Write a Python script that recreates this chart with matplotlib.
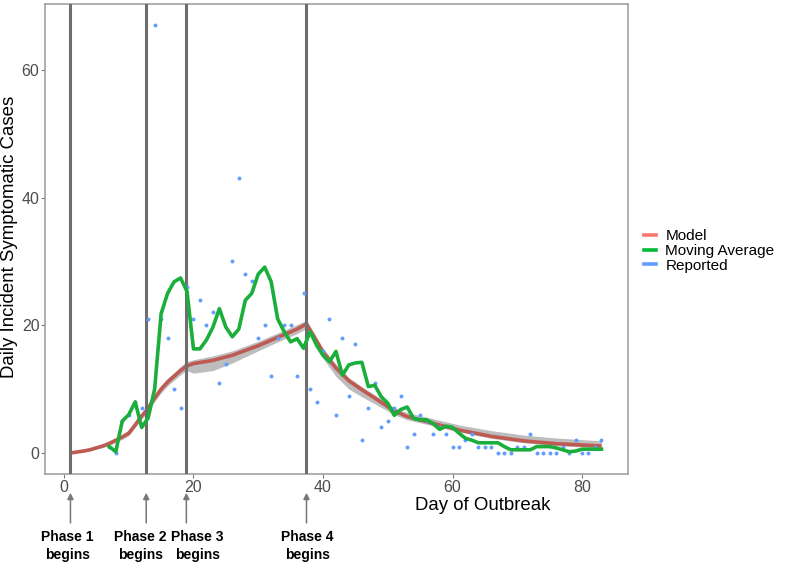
import matplotlib
matplotlib.use("Agg")
from matplotlib import pyplot as plt

plt.rcParams['font.family'] = ['Liberation Sans', 'DejaVu Sans']

# reported daily cases (days 7..83)
rep_days = list(range(7, 84))
rep_vals = [1, 0, 5, 6, 8, 7, 21, 67, 21, 18, 10, 7, 26, 21, 24, 20, 22, 11, 14, 30,
            43, 28, 27, 18, 20, 12, 18, 20, 20, 12, 25, 10, 8, 16, 21, 6, 18, 9, 17, 2,
            7, 11, 4, 5, 7, 9, 1, 3, 6, 5, 3, 4, 3, 1, 1, 2, 3, 1, 1, 1,
            0, 0, 0, 1, 1, 3, 0, 0, 0, 0, 1, 0, 2, 0, 0, 1, 2]

# moving average (days 7..83)
ma_days = list(range(7, 84))
ma_vals = [1.0, 0.2, 5.0, 6.0, 8.0, 4.0, 5.5, 10.0, 21.8, 25.0, 26.8, 27.4, 25.3, 16.3,
           16.3, 17.7, 19.7, 22.6, 19.7, 18.2, 19.4, 23.9, 25.0, 28.0, 29.1, 26.8, 21.0,
           19.0, 17.4, 17.9, 16.4, 19.0, 16.9, 15.3, 14.3, 15.9, 12.2, 13.8, 14.1, 14.2,
           10.4, 10.6, 8.8, 7.8, 5.9, 6.8, 7.2, 5.4, 5.2, 5.2, 4.6, 3.7, 4.2, 4.0, 3.1,
           2.3, 2.0, 1.6, 1.6, 1.6, 1.6, 1.0, 0.5, 0.5, 0.5, 0.5, 1.0, 1.0, 1.0, 0.8,
           0.5, 0.2, 0.3, 0.6, 0.6, 0.6, 0.6]

# model fit with confidence band
mod_days = [1, 2, 3, 4, 5, 6, 7, 8, 9, 10, 11, 12, 12.7, 14, 15, 16, 17, 18, 18.9,
            20, 23, 26, 30, 33, 36, 37.45, 38.5, 40, 42, 44, 46, 48, 51, 53, 56, 61,
            66, 71, 76, 83]
mod_vals = [0.0, 0.15, 0.3, 0.5, 0.8, 1.1, 1.5, 2.0, 2.5, 3.1, 4.4, 5.8, 6.6, 8.6,
            10.0, 11.1, 12.0, 12.9, 13.6, 14.0, 14.5, 15.3, 16.8, 18.1, 19.4, 20.2,
            18.4, 15.8, 13.3, 11.3, 9.9, 8.6, 6.6, 5.7, 4.9, 3.6, 2.6, 1.9, 1.45, 1.1]
mod_lo = [0.0, 0.05, 0.15, 0.35, 0.6, 0.85, 1.2, 1.65, 2.15, 2.7, 4.0, 5.35, 6.1, 8.05,
          9.4, 10.5, 11.4, 12.25, 12.9, 12.5, 12.9, 14.1, 16.0, 17.4, 18.7, 19.5, 17.6,
          14.8, 12.0, 10.0, 8.8, 7.7, 6.0, 5.2, 4.5, 3.3, 2.3, 1.6, 1.15, 0.8]
mod_hi = [0.1, 0.25, 0.45, 0.65, 1.0, 1.35, 1.8, 2.35, 2.85, 3.5, 4.8, 6.3, 7.1, 9.15,
          10.6, 11.7, 12.6, 13.55, 14.3, 14.6, 15.2, 16.0, 17.5, 18.8, 20.1, 20.8, 19.0,
          16.4, 13.9, 11.8, 10.4, 9.1, 7.1, 6.3, 5.6, 4.4, 3.5, 2.8, 2.35, 1.9]

phase_days = [1, 12.7, 18.9, 37.45]
phase_labels = ['Phase 1\nbegins', 'Phase 2\nbegins', 'Phase 3\nbegins', 'Phase 4\nbegins']
phase_text_shift = [-3, -6, 11, 1]   # pixels, to keep labels apart

fig = plt.figure(figsize=(7.87, 5.63), dpi=100)
ax = fig.add_axes([45/787, 1-474/563, 583/787, 470/563])

ax.fill_between(mod_days, mod_lo, mod_hi, color='#bdbdbd', lw=0, zorder=2)
ax.plot(mod_days, mod_vals, color='#bf5a53', lw=2.6, zorder=3, solid_capstyle='butt')
for d in phase_days:
    ax.axvline(d, color='#6e6e6e', lw=2.2, zorder=4)
ax.scatter(rep_days, rep_vals, s=8, color='#619CFF', lw=0, zorder=5)
ax.plot(ma_days, ma_vals, color='#1aae3a', lw=2.6, zorder=6)

ax.set_xlim(-2.93, 87.1)
ax.set_ylim(-3.29, 70.3)
ax.set_xticks([0, 20, 40, 60, 80])
ax.set_yticks([0, 20, 40, 60])
ax.tick_params(colors='#7a7a7a', labelcolor='#4d4d4d', labelsize=11.5, length=2.8,
               width=0.8, pad=1.2)
for s in ax.spines.values():
    s.set_color('#9a9a9a')
    s.set_linewidth(1.1)

fig.text(10/787, 1-237/563, 'Daily Incident Symptomatic Cases', rotation=90,
         ha='center', va='center', fontsize=13.4, color='black')
fig.text(483/787, 1-505/563, 'Day of Outbreak', ha='center', va='center',
         fontsize=13.4, color='black')

# phase arrows and labels below the axis
for d, lab, sh in zip(phase_days, phase_labels, phase_text_shift):
    ax.annotate('', xy=(d, -0.040), xytext=(d, -0.104),
                xycoords=('data', 'axes fraction'), textcoords=('data', 'axes fraction'),
                arrowprops=dict(arrowstyle='-|>', color='#777777', lw=1.1,
                                mutation_scale=9, shrinkA=0, shrinkB=0),
                annotation_clip=False)
    ax.annotate(lab, xy=(d, -0.153), xycoords=('data', 'axes fraction'),
                xytext=(sh * 0.72, 0), textcoords='offset points',
                ha='center', va='center', fontsize=10, fontweight='bold',
                linespacing=1.3, annotation_clip=False)

h1, = ax.plot([], [], color='#F8766D', lw=2.6)
h2, = ax.plot([], [], color='#00BA38', lw=2.6)
h3, = ax.plot([], [], color='#619CFF', lw=2.6)
fig.legend([h1, h2, h3], ['Model', 'Moving Average', 'Reported'],
           loc='center left', bbox_to_anchor=(644/787, 1-251/563), frameon=False,
           fontsize=11, handlelength=0.8, handletextpad=0.6, labelspacing=0.05,
           borderpad=0, borderaxespad=0)

fig.savefig('out.png', dpi=100)
